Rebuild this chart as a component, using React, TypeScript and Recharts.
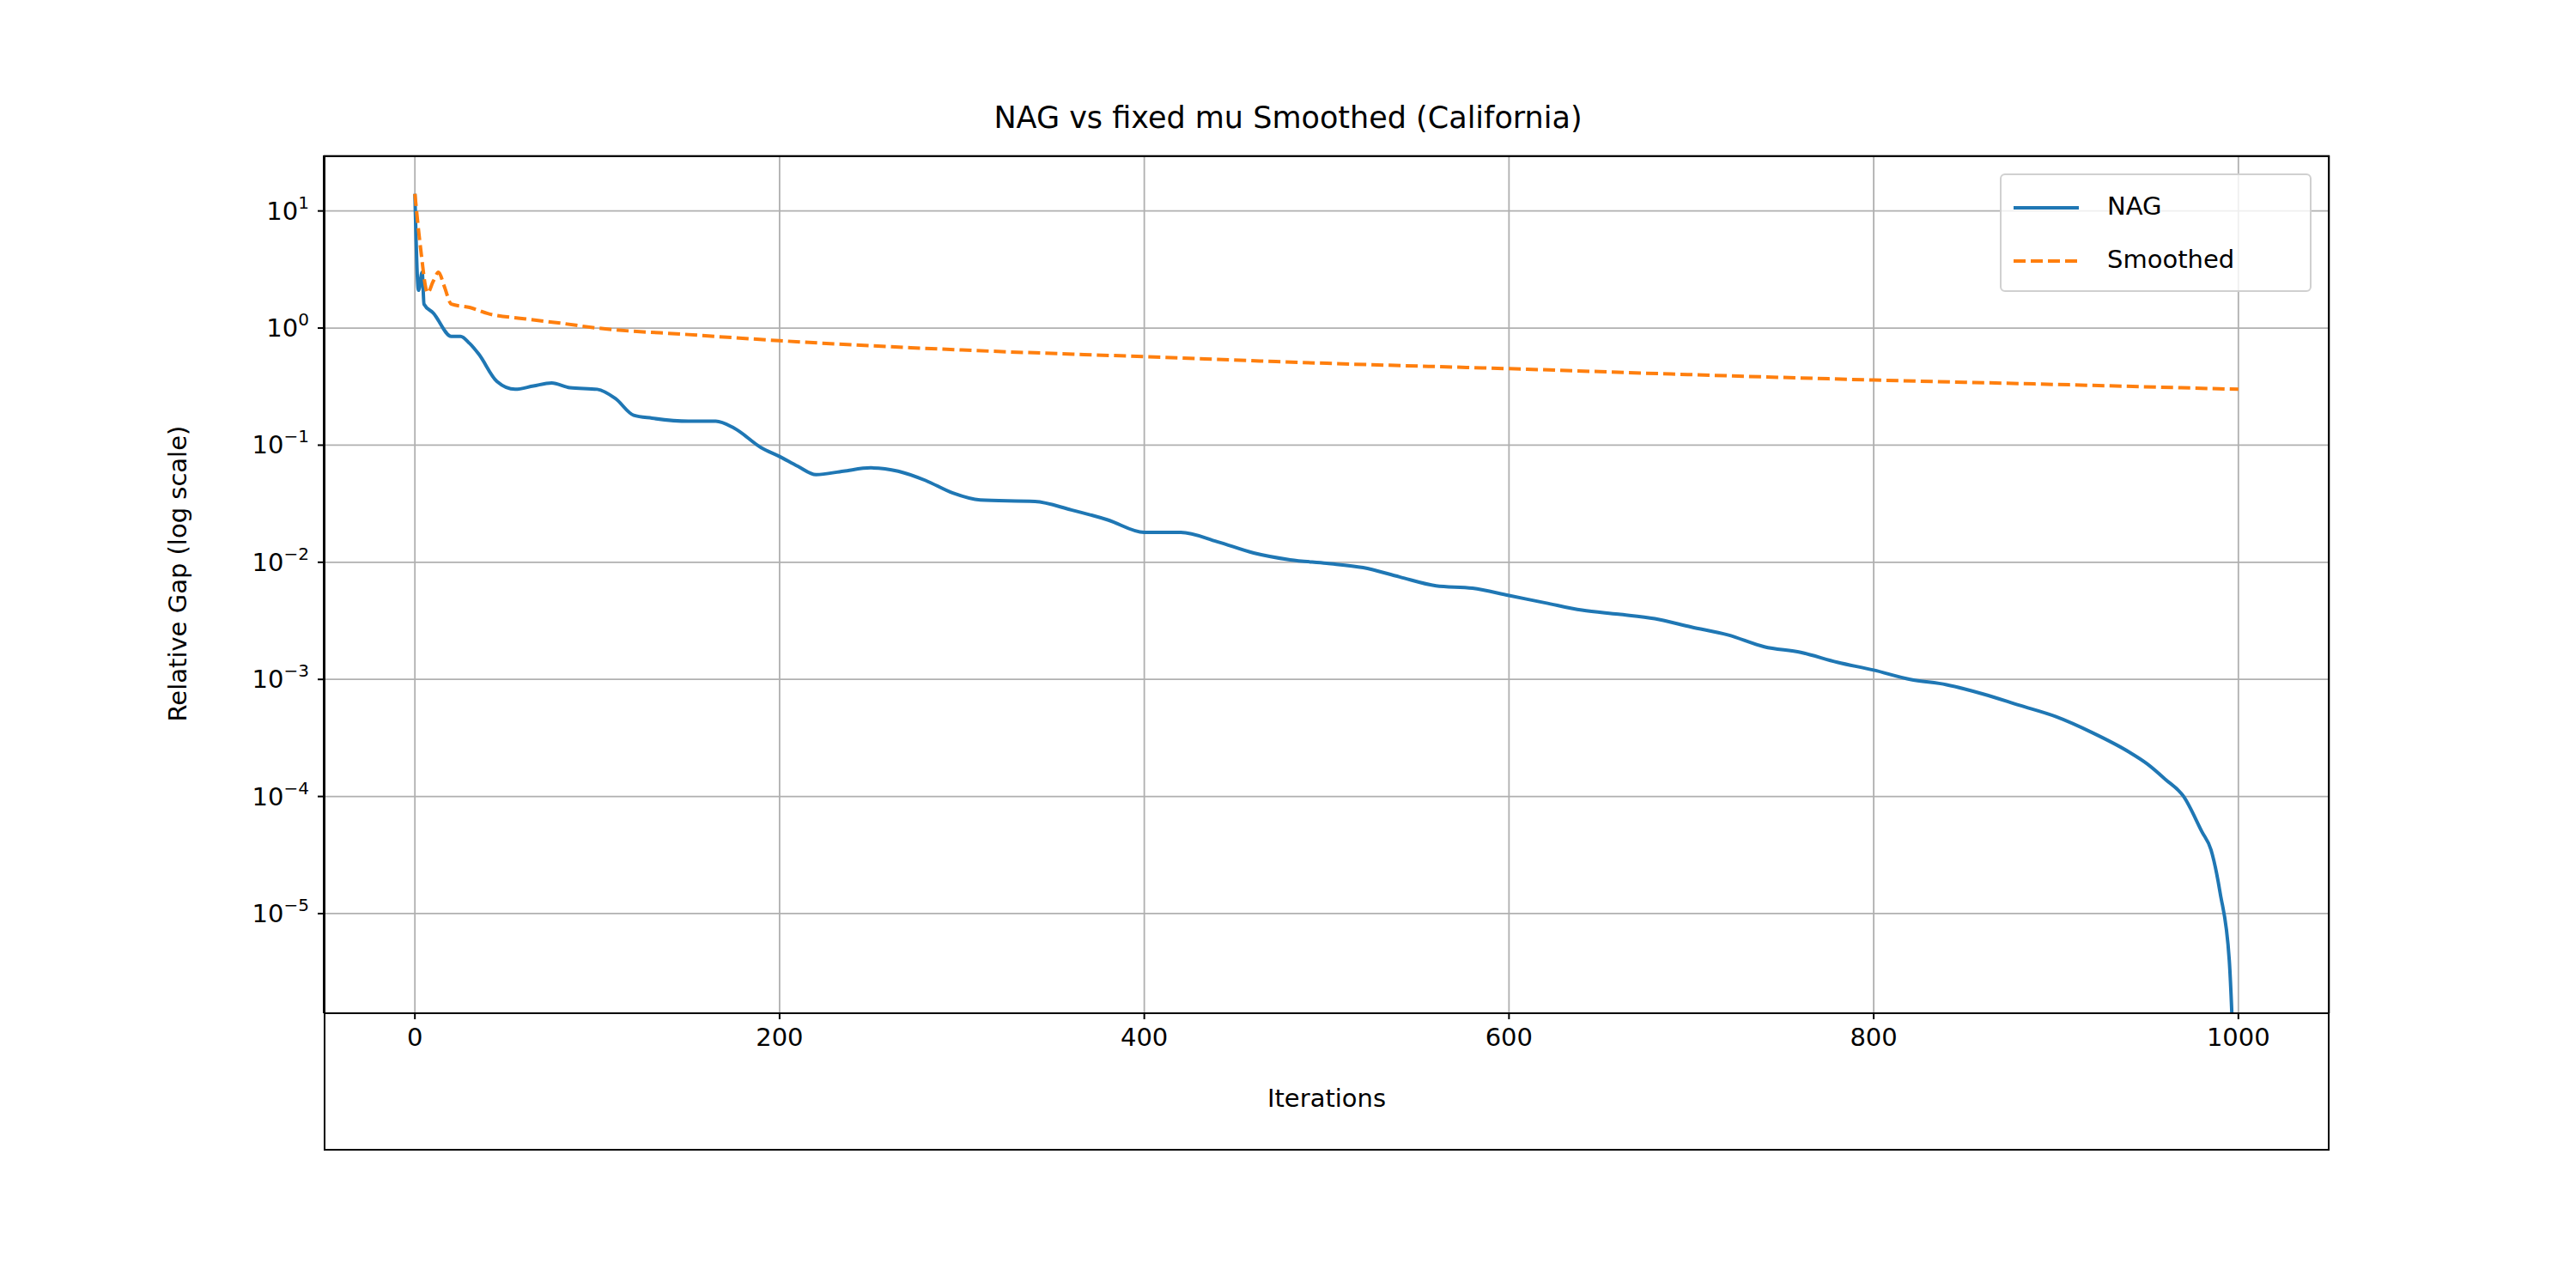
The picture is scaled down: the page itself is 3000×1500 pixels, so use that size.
import React from 'react';
import { LineChart, Line, XAxis, YAxis, CartesianGrid } from 'recharts';

// NAG relative gap per iteration
const nagIter = [0, 2, 4, 5, 10, 20, 25, 30, 35, 45, 55, 65, 75, 85, 100, 110, 120, 130, 150, 165, 175, 190, 200, 210, 220, 235, 250, 265, 280, 295, 310, 340, 360, 380, 400, 420, 440, 460, 480, 500, 520, 540, 560, 580, 600, 620, 640, 660, 680, 700, 720, 740, 760, 780, 800, 820, 840, 860, 880, 900, 920, 940, 950, 960, 970, 980, 985, 990, 995, 999];
const nagGap = [14, 2.1, 3, 1.6, 1.35, 0.85, 0.85, 0.74, 0.6, 0.35, 0.3, 0.32, 0.34, 0.31, 0.3, 0.25, 0.18, 0.17, 0.16, 0.16, 0.14, 0.095, 0.08, 0.066, 0.056, 0.06, 0.064, 0.06, 0.05, 0.039, 0.034, 0.033, 0.028, 0.023, 0.018, 0.018, 0.015, 0.012, 0.0105, 0.0098, 0.009, 0.0075, 0.0063, 0.006, 0.0052, 0.0045, 0.0039, 0.0036, 0.0033, 0.0028, 0.0024, 0.0019, 0.0017, 0.0014, 0.0012, 0.001, 0.0009, 0.00075, 0.0006, 0.00048, 0.00035, 0.00024, 0.00019, 0.00014, 0.0001, 0.00005, 0.000035, 0.000015, 0.000004, 0.0000001];

// Smoothed (fixed mu) relative gap
const smIter = [0, 3, 7, 10, 13, 16, 20, 30, 40, 60, 80, 100, 150, 200, 300, 400, 500, 600, 700, 800, 900, 1000];
const smGap = [14, 5, 2, 2.5, 3.0, 2.3, 1.6, 1.5, 1.33, 1.2, 1.1, 1.0, 0.88, 0.78, 0.65, 0.57, 0.5, 0.45, 0.4, 0.36, 0.33, 0.3];

const xTicks = [0, 200, 400, 600, 800, 1000];
const yExps = [-5, -4, -3, -2, -1, 0, 1];

const nagData = nagIter.map((x, i) => ({ x, nag: nagGap[i] }));
const smData = smIter.map((x, i) => ({ x, sm: smGap[i] }));

const FONT = 'DejaVu Sans';

function YTick({ x, y, payload }: any) {
  const e = Math.round(Math.log10(payload.value));
  return (
    <text x={x - 8} y={y + 10} textAnchor="end" fontFamily={FONT} fontSize={29} fill="#000">
      10<tspan dy={-13} fontSize={20}>{e < 0 ? '\u2212' + -e : e}</tspan>
    </text>
  );
}

function LegendBox() {
  return (
    <div style={{ position: 'absolute', left: 2329, top: 202, width: 363, height: 138, border: '2px solid #d0d0d0', borderRadius: 6, background: 'rgba(255,255,255,0.8)', fontFamily: FONT, fontSize: 29, boxSizing: 'border-box' }}>
      <svg width={80} height={120} style={{ position: 'absolute', left: 14, top: 8 }}>
        <line x1={0} y1={30} x2={76} y2={30} stroke="#1f77b4" strokeWidth={4} />
        <line x1={0} y1={92} x2={76} y2={92} stroke="#ff7f0e" strokeWidth={4} strokeDasharray="14 6" />
      </svg>
      <div style={{ position: 'absolute', left: 123, top: 19 }}>NAG</div>
      <div style={{ position: 'absolute', left: 123, top: 81 }}>Smoothed</div>
    </div>
  );
}

export default function App() {
  return (
    <div style={{ position: 'absolute', left: 0, top: 0, width: 3000, height: 1500, background: '#fff' }}>
      <div style={{ position: 'absolute', top: 117, width: 3000, textAlign: 'center', fontFamily: FONT, fontSize: 35 }}>
        NAG vs fixed mu Smoothed (California)
      </div>
      <LineChart width={3000} height={1500} margin={{ top: 181, right: 287, bottom: 160, left: 277 }}>
        <CartesianGrid stroke="#b0b0b0" strokeWidth={1.8} />
        <XAxis
          type="number"
          dataKey="x"
          domain={[-50, 1050]}
          ticks={xTicks}
          allowDataOverflow
          height={160}
          stroke="#000"
          strokeWidth={2}
          tickSize={7}
          tick={{ fontFamily: FONT, fontSize: 29, fill: '#000', dy: 8 }}
          label={{ value: 'Iterations', position: 'insideTop', offset: 88, fontFamily: FONT, fontSize: 29, fill: '#000' }}
        />
        <YAxis
          scale="log"
          type="number"
          domain={[1.41e-6, 29.8]}
          ticks={yExps.map((e) => Math.pow(10, e))}
          allowDataOverflow
          width={100}
          stroke="#000"
          strokeWidth={2}
          tickSize={7}
          tick={<YTick />}
          label={{ value: 'Relative Gap (log scale)', angle: -90, position: 'insideLeft', offset: -70, dy: 160, fontFamily: FONT, fontSize: 29, fill: '#000' }}
        />
        <Line data={nagData} dataKey="nag" type="monotone" stroke="#1f77b4" strokeWidth={4} dot={false} isAnimationActive={false} />
        <Line data={smData} dataKey="sm" type="monotone" stroke="#ff7f0e" strokeWidth={4} strokeDasharray="14 6" dot={false} isAnimationActive={false} />
      </LineChart>
      <div style={{ position: 'absolute', left: 377, top: 181, width: 2336, height: 1159, border: '2px solid #000', boxSizing: 'border-box', pointerEvents: 'none' }} />
      <LegendBox />
    </div>
  );
}
